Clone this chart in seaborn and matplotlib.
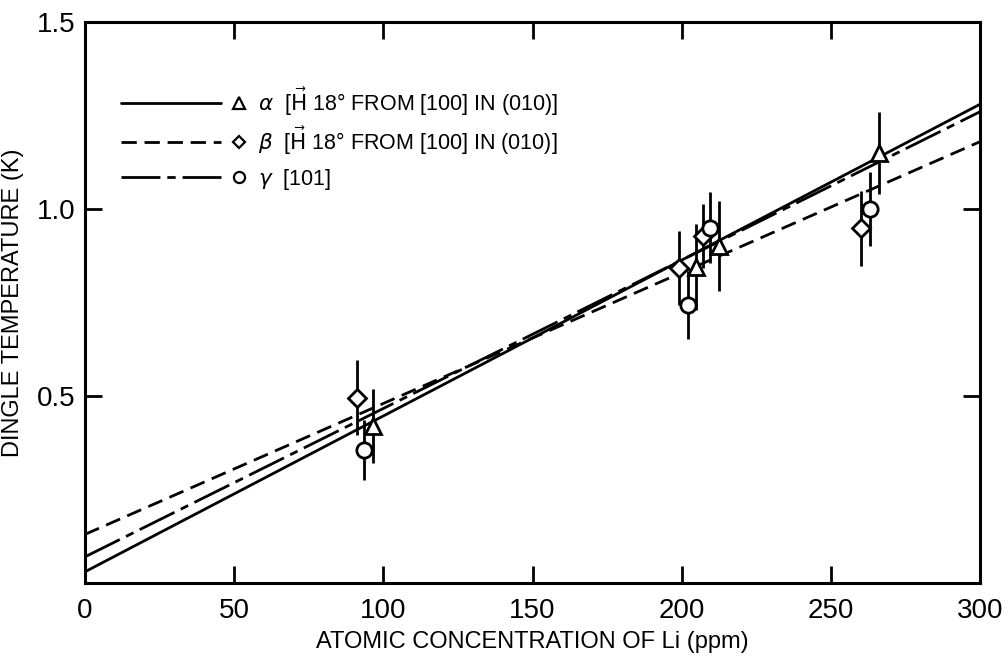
import matplotlib
matplotlib.use("Agg")
import matplotlib.pyplot as plt
import seaborn as sns
import numpy as np
import pandas as pd
from matplotlib.lines import Line2D
from matplotlib.legend_handler import HandlerBase

# ---- data ----
fit_x = [0, 300]
alpha_fit = [0.03, 1.28]
beta_fit = [0.13, 1.18]
gamma_fit = [0.07, 1.26]

alpha_x = [96.5, 204.8, 212.6, 266.2]
alpha_y = [0.42, 0.845, 0.90, 1.15]
alpha_err = [0.10, 0.115, 0.12, 0.11]

beta_x = [91.2, 199.2, 207.0, 260.0]
beta_y = [0.495, 0.842, 0.927, 0.948]
beta_err = [0.10, 0.10, 0.085, 0.10]

gamma_x = [93.5, 202.0, 209.5, 263.0]
gamma_y = [0.356, 0.743, 0.95, 1.0]
gamma_err = [0.08, 0.09, 0.095, 0.10]

x_ticks = [0, 50, 100, 150, 200, 250, 300]
y_ticks = [0.5, 1.0, 1.5]
y_ticklabels = ["0.5", "1.0", "1.5"]

labels = [r"$\alpha$  [$\vec{\rm H}$ 18° FROM [100] IN (010)]",
          r"$\beta$  [$\vec{\rm H}$ 18° FROM [100] IN (010)]",
          r"$\gamma$  [101]"]

sns.set_style("ticks")
plt.rcParams['font.family'] = ['Liberation Sans', 'DejaVu Sans']
plt.rcParams['mathtext.fontset'] = 'dejavusans'
for k in ["text.color", "axes.labelcolor", "xtick.color", "ytick.color", "axes.edgecolor"]:
    plt.rcParams[k] = "black"

fig = plt.figure(figsize=(10.08, 6.57), dpi=100)
ax = fig.add_axes([0.0843, 0.1126, 0.888, 0.854])

lw = 2.0
dashed = (5.5, 2.8)
dashdot = (14, 2.5, 3, 2.5)

fits = pd.DataFrame({"x": fit_x * 3,
                     "y": alpha_fit + beta_fit + gamma_fit,
                     "s": ["a"] * 2 + ["b"] * 2 + ["g"] * 2})
sns.lineplot(data=fits, x="x", y="y", style="s",
             dashes={"a": "", "b": dashed, "g": dashdot},
             color="black", linewidth=lw, legend=False, ax=ax)

ms = 11
for xs, ys, es, mk in [(alpha_x, alpha_y, alpha_err, "^"),
                       (beta_x, beta_y, beta_err, "D"),
                       (gamma_x, gamma_y, gamma_err, "o")]:
    ax.errorbar(xs, ys, yerr=es, fmt="none", ecolor="black", elinewidth=2.0,
                capsize=0, zorder=3)
    size = ms * (0.8 if mk == "D" else 1.0)
    ax.plot(xs, ys, linestyle="none", marker=mk, markersize=size,
            markerfacecolor="white", markeredgecolor="black",
            markeredgewidth=2.0, zorder=4)


class LineMarkerHandler(HandlerBase):
    def create_artists(self, legend, orig_handle, xdescent, ydescent, width,
                       height, fontsize, trans):
        ls, mk = orig_handle
        y = 0.36 * fontsize
        line = Line2D([-xdescent - 4, -xdescent + width * 0.78], [y, y],
                      color="black", lw=lw, linestyle=ls, transform=trans)
        msz = 6.5 if mk == "D" else 8
        mark = Line2D([-xdescent + width * 0.93], [y], marker=mk, markersize=msz,
                      markerfacecolor="white", markeredgecolor="black",
                      markeredgewidth=1.6, linestyle="none", transform=trans)
        return [line, mark]


handles = [("-", "^"), ((0, dashed), "D"), ((0, dashdot), "o")]
leg = ax.legend(handles, labels, loc="upper left", bbox_to_anchor=(0.025, 0.921),
                frameon=False, fontsize=15.5, handlelength=5.6, handletextpad=0.5,
                handleheight=1.5, labelspacing=0.34,
                handler_map={tuple: LineMarkerHandler()})

ax.set_xlim(0, 300)
ax.set_ylim(0, 1.5)
ax.set_xticks(x_ticks)
ax.set_xticklabels([str(v) for v in x_ticks])
ax.set_yticks(y_ticks)
ax.set_yticklabels(y_ticklabels)
ax.tick_params(direction="in", length=12, width=2, labelsize=20,
               top=True, right=True)
ax.tick_params(axis="x", pad=11)
ax.tick_params(axis="y", pad=7)
for s in ax.spines.values():
    s.set_linewidth(2.2)
    s.set_visible(True)
ax.set_xlabel("ATOMIC CONCENTRATION OF Li (ppm)", fontsize=17, labelpad=5)
ax.set_ylabel("DINGLE TEMPERATURE (K)", fontsize=17, labelpad=9)

fig.savefig("out.png", dpi=100)
